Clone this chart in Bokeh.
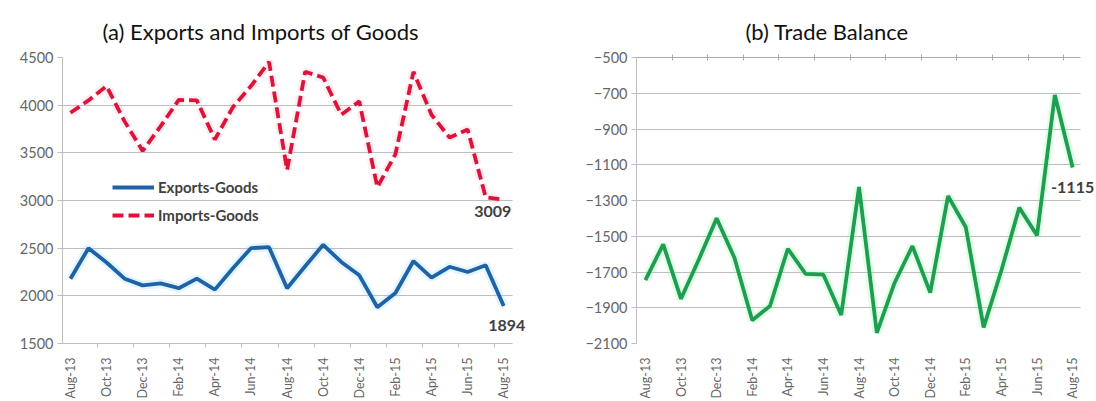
from bokeh.plotting import figure
from bokeh.layouts import row
from bokeh.models import (Range1d, FixedTicker, Legend, LegendItem, Label,
                          LinearAxis, ColumnDataSource)
from bokeh.embed import file_html
from bokeh.resources import INLINE

months = ["Aug-13", "Sep-13", "Oct-13", "Nov-13", "Dec-13", "Jan-14", "Feb-14",
          "Mar-14", "Apr-14", "May-14", "Jun-14", "Jul-14", "Aug-14", "Sep-14",
          "Oct-14", "Nov-14", "Dec-14", "Jan-15", "Feb-15", "Mar-15", "Apr-15",
          "May-15", "Jun-15", "Jul-15", "Aug-15"]
exports_goods = [2180, 2500, 2350, 2180, 2110, 2130, 2080, 2180, 2065, 2290,
                 2500, 2510, 2080, 2310, 2535, 2355, 2215, 1880, 2030, 2365,
                 2190, 2305, 2250, 2320, 1894]
imports_goods = [3920, 4050, 4200, 3830, 3520, 3780, 4055, 4050, 3640, 3980,
                 4200, 4455, 3320, 4350, 4290, 3900, 4040, 3140, 3485, 4350,
                 3900, 3660, 3745, 3035, 3009]
trade_balance = [-1745, -1545, -1850, -1630, -1400, -1620, -1970, -1890, -1570,
                 -1710, -1715, -1940, -1225, -2040, -1760, -1555, -1815, -1275,
                 -1450, -2010, -1690, -1340, -1495, -710, -1115]
left_yticks = [1500, 2000, 2500, 3000, 3500, 4000, 4500]
right_yticks = [-2100, -1900, -1700, -1500, -1300, -1100, -900, -700, -500]

FONT = "Lato"
TICK_COLOR = "#666666"
GRID = "#bdbdbd"
BLUE = "#1f63a6"
RED = "#dc143c"
GREEN = "#1e9e50"

n = len(months)
xs = list(range(n))
label_ticks = list(range(0, n, 2))
boundary_ticks = [i + 1.5 for i in range(0, n - 2, 2)]
overrides = {i: months[i] for i in label_ticks}

# plot-area extents (category units); the frame is a bit wider so the end
# value labels are not clipped
LEFT_AREA = (-0.44, 24.5)
RIGHT_AREA = (-0.5, 24.45)


def style(p, yticks, area, title_offset, title_standoff):
    p.outline_line_color = None
    p.background_fill_color = "white"
    p.border_fill_color = "white"
    p.xgrid.grid_line_color = None
    p.ygrid.grid_line_color = GRID
    p.ygrid.grid_line_width = 1
    p.ygrid.cross_bounds = area
    p.yaxis.ticker = FixedTicker(ticks=yticks)
    p.yaxis.axis_line_color = GRID
    p.yaxis.major_tick_line_color = GRID
    p.yaxis.major_tick_out = 5
    p.yaxis.major_tick_in = 0
    p.yaxis.minor_tick_line_color = None
    p.yaxis.major_label_text_font = FONT
    p.yaxis.major_label_text_font_size = "14.5px"
    p.yaxis.major_label_text_color = TICK_COLOR
    p.yaxis.major_label_standoff = 4
    p.xaxis.ticker = FixedTicker(ticks=label_ticks, minor_ticks=boundary_ticks)
    p.xaxis.major_label_overrides = overrides
    p.xaxis.major_label_orientation = 1.5708
    p.xaxis.major_label_text_font = FONT
    p.xaxis.major_label_text_font_size = "12.5px"
    p.xaxis.major_label_text_color = TICK_COLOR
    p.xaxis.major_label_standoff = 10
    p.xaxis.major_tick_line_color = None
    p.xaxis.major_tick_out = 0
    p.xaxis.major_tick_in = 0
    p.xaxis.bounds = area
    p.title.text_font = FONT
    p.title.text_font_size = "22px"
    p.title.text_font_style = "normal"
    p.title.text_color = "#111111"
    p.title.align = "left"
    p.title.offset = title_offset
    p.title.standoff = title_standoff


def value_label(x, y, dx, dy):
    return Label(x=x, y=y, text=str(y), x_offset=dx, y_offset=dy,
                 text_align="center", text_baseline="middle", text_font=FONT,
                 text_font_size="16px", text_font_style="bold",
                 text_color="#404040", level="overlay")


# ---------- (a) Exports and Imports ----------
p1 = figure(width=548, height=401, output_backend="svg", toolbar_location=None,
            x_range=Range1d(LEFT_AREA[0], 26.48), y_range=Range1d(1500, 4500),
            title="(a) Exports and Imports of Goods",
            min_border_left=62, min_border_right=0, min_border_top=57,
            min_border_bottom=56)
style(p1, left_yticks, LEFT_AREA, 40, 26)
p1.xaxis.axis_line_color = GRID
p1.xaxis.minor_tick_line_color = GRID
p1.xaxis.minor_tick_out = 4
p1.xaxis.minor_tick_in = 0

src1 = ColumnDataSource(dict(x=xs, exp=exports_goods, imp=imports_goods))
p1.line("x", "exp", source=src1, line_color="#8fd8ff", line_width=9, line_alpha=0.25)
p1.line("x", "imp", source=src1, line_color="#ffb3c0", line_width=9, line_alpha=0.25,
        line_dash="11 5")
r_exp = p1.line("x", "exp", source=src1, line_color=BLUE, line_width=3.8)
r_imp = p1.line("x", "imp", source=src1, line_color=RED, line_width=3.8,
                line_dash="11 5")

legend = Legend(items=[LegendItem(label="Exports-Goods", renderers=[r_exp]),
                       LegendItem(label="Imports-Goods", renderers=[r_imp])],
                location=(50, 118), orientation="vertical",
                glyph_width=42, glyph_height=20, label_height=20, spacing=8,
                label_standoff=4, padding=0, margin=0,
                label_text_font=FONT, label_text_font_size="15px",
                label_text_font_style="bold", label_text_color="#404040",
                border_line_color=None, background_fill_alpha=0)
p1.add_layout(legend)

p1.add_layout(value_label(xs[-1], imports_goods[-1], -11, -12))
p1.add_layout(value_label(xs[-1], exports_goods[-1], 3, -20))

# ---------- (b) Trade Balance ----------
p2 = figure(width=548, height=401, output_backend="svg", toolbar_location=None,
            x_range=Range1d(RIGHT_AREA[0], 25.34), y_range=Range1d(-2100, -500),
            title="(b) Trade Balance",
            min_border_left=88, min_border_right=0, min_border_top=57,
            min_border_bottom=56)
style(p2, right_yticks, RIGHT_AREA, 109, 20)
p2.xaxis.axis_line_color = None
p2.xaxis.minor_tick_line_color = None

top_axis = LinearAxis(ticker=FixedTicker(ticks=boundary_ticks),
                      major_label_overrides={t: "" for t in boundary_ticks},
                      major_label_text_font_size="1px", major_label_standoff=0,
                      major_tick_in=3, major_tick_out=3, bounds=RIGHT_AREA,
                      major_tick_line_color="#aaaaaa", axis_line_color="#aaaaaa",
                      minor_tick_line_color=None)
p2.add_layout(top_axis, "above")

src2 = ColumnDataSource(dict(x=xs, bal=trade_balance))
p2.line("x", "bal", source=src2, line_color="#8dff9f", line_width=9, line_alpha=0.25)
p2.line("x", "bal", source=src2, line_color=GREEN, line_width=3.8)
p2.add_layout(value_label(xs[-1], trade_balance[-1], 0, -20))

layout = row(p1, p2)
open("out.html", "w").write(file_html(layout, INLINE))
